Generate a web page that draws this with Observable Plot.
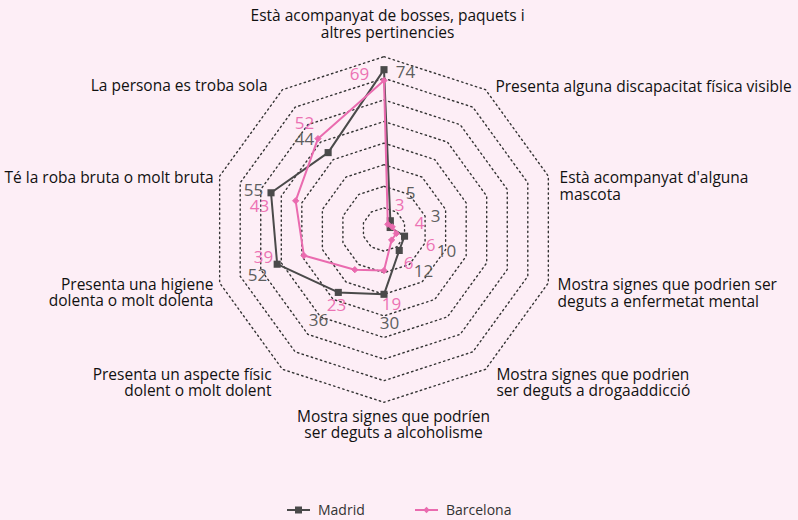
<!DOCTYPE html>
<html>
<head>
<meta charset="utf-8">
<script src="https://cdn.jsdelivr.net/npm/d3@7"></script>
<script src="https://cdn.jsdelivr.net/npm/@observablehq/plot@0.6"></script>
<style>
  html, body { margin: 0; padding: 0; background: #FDEEF6; }
  body { width: 798px; height: 520px; overflow: hidden; font-family: "Open Sans", Lato, sans-serif; }
  #legend { position: relative; height: 30px; font-size: 14px; color: #333; }
  .item { position: absolute; top: 13px; display: flex; align-items: center; height: 14px; }
  .item span { margin-left: 8px; line-height: 14px; }
</style>
</head>
<body>
<div id="chart"></div>
<div id="legend"></div>
<script>
// ---- data ----
const categories = [
  "Està acompanyat de bosses, paquets i\naltres pertinencies",
  "Presenta alguna discapacitat física visible",
  "Està acompanyat d'alguna\nmascota",
  "Mostra signes que podrien ser\ndeguts a enfermetat mental",
  "Mostra signes que podrien\nser deguts a drogaaddicció",
  "Mostra signes que podríen\nser deguts a alcoholisme",
  "Presenta un aspecte físic\ndolent o molt dolent",
  "Presenta una higiene\ndolenta o molt dolenta",
  "Té la roba bruta o molt bruta",
  "La persona es troba sola"
];
const seriesNames = ["Madrid", "Barcelona"];
const madrid    = [74, 5, 3, 10, 12, 30, 36, 52, 55, 44];
const barcelona = [69, 3, 4,  6,  6, 19, 23, 39, 43, 52];
const ringValues = [10, 20, 30, 40, 50, 60, 70, 80];

// ---- layout (not data) ----
const colors = {Madrid: "#4a4a4a", Barcelona: "#EA6BAF"};
const labelColors = {Madrid: "#5e5e5e", Barcelona: "#EC72B3"};
// axis label anchor: [radius (units), angle (deg), text-anchor]
const axisLabelPos = [
  [95, 1, "middle"], [84, 37.9, "start"], [83.7, 76.2, "start"], [85.6, 110.2, "start"],
  [87.9, 143.7, "start"], [90.4, 177.2, "middle"], [87.9, 216.3, "end"], [84.2, 249.7, "end"],
  [82.5, 287, "end"], [85.7, 321, "end"]
];
// value label offsets: [dr (units), dθ (deg)]
const madridLabelOff = [[-0.6, 7.8], [15.7, 0.4], [21.6, 3.8], [20.7, 1.4], [14.7, -7.2],
  [13.6, -3.3], [15.9, -0.3], [10.3, -2], [8.1, -1.4], [11.6, -5.5]];
const barcelonaLabelOff = [[3.6, -9], [10.2, -3.1], [12.7, 8.4], [16.8, 1], [13.4, 0.2],
  [15.9, -5.7], [18.5, -4], [18.3, 4.9], [15.6, -7.5], [9.3, -0.9]];

const N = categories.length;
const rad = d => d * Math.PI / 180;
const polar = (r, deg) => ({x: r * Math.sin(rad(deg)), y: r * Math.cos(rad(deg))});
const axisAngle = i => i * 360 / N;

const rings = ringValues.flatMap(v =>
  d3.range(N + 1).map(i => ({ring: v, ...polar(v, axisAngle(i % N))})));

const seriesPts = (name, vals) =>
  d3.range(N + 1).map(i => ({series: name, value: vals[i % N], ...polar(vals[i % N], axisAngle(i % N))}));
const madridPts = seriesPts("Madrid", madrid);
const barcelonaPts = seriesPts("Barcelona", barcelona);

const valueLabels = (name, vals, offs) => vals.map((v, i) => ({
  series: name, text: String(v), ...polar(v + offs[i][0], axisAngle(i) + offs[i][1])}));
const labelsM = valueLabels("Madrid", madrid, madridLabelOff);
const labelsB = valueLabels("Barcelona", barcelona, barcelonaLabelOff);

const axisLabels = categories.map((c, i) => ({
  text: c, anchor: axisLabelPos[i][2], ...polar(axisLabelPos[i][0], axisLabelPos[i][1])}));

const W = 798, H = 490, cx = 383.5, cy = 229, k = 2.16;
const font = "'Open Sans', Lato, sans-serif";
const labelFont = 15.5;

const chart = Plot.plot({
  width: W, height: H, margin: 0,
  style: {background: "transparent", fontFamily: font},
  x: {domain: [-cx / k, (W - cx) / k], axis: null},
  y: {domain: [-(H - cy) / k, cy / k], axis: null},
  marks: [
    Plot.line(rings, {x: "x", y: "y", z: "ring", stroke: "#333", strokeWidth: 1.4,
      strokeDasharray: "1.4,3.4"}),
    Plot.line(madridPts, {x: "x", y: "y", stroke: colors.Madrid, strokeWidth: 2}),
    Plot.dot(madridPts.slice(0, N), {x: "x", y: "y", symbol: "square", r: 4, fill: colors.Madrid}),
    Plot.line(barcelonaPts, {x: "x", y: "y", stroke: colors.Barcelona, strokeWidth: 2}),
    Plot.dot(barcelonaPts.slice(0, N), {x: "x", y: "y", symbol: "diamond2", r: 2.8, fill: colors.Barcelona, stroke: colors.Barcelona, strokeWidth: 1}),
    Plot.text(labelsM, {x: "x", y: "y", text: "text", fill: labelColors.Madrid, fontSize: 17}),
    Plot.text(labelsB, {x: "x", y: "y", text: "text", fill: labelColors.Barcelona, fontSize: 17}),
    Plot.text(axisLabels.filter(d => d.anchor === "middle"), {x: "x", y: "y", text: "text", textAnchor: "middle", fill: "#111", fontSize: labelFont, lineHeight: 1.05}),
    Plot.text(axisLabels.filter(d => d.anchor === "start"), {x: "x", y: "y", text: "text", textAnchor: "start", fill: "#111", fontSize: labelFont, lineHeight: 1.05}),
    Plot.text(axisLabels.filter(d => d.anchor === "end"), {x: "x", y: "y", text: "text", textAnchor: "end", fill: "#111", fontSize: labelFont, lineHeight: 1.05})
  ]
});
document.getElementById("chart").appendChild(chart);

// legend
const legend = document.getElementById("legend");
const legendLeft = [287, 415];
seriesNames.forEach((name, i) => {
  const item = document.createElement("div");
  item.className = "item";
  item.style.left = legendLeft[i] + "px";
  const sym = name === "Madrid"
    ? `<rect x="8" y="3.5" width="7" height="7" fill="${colors[name]}"/>`
    : `<path d="M11.5 3.8 L14.7 7 L11.5 10.2 L8.3 7 Z" fill="${colors[name]}"/>`;
  item.innerHTML = `<svg width="23" height="14"><line x1="0" y1="7" x2="23" y2="7" stroke="${colors[name]}" stroke-width="2"/>${sym}</svg><span>${name}</span>`;
  legend.appendChild(item);
});
</script>
</body>
</html>
